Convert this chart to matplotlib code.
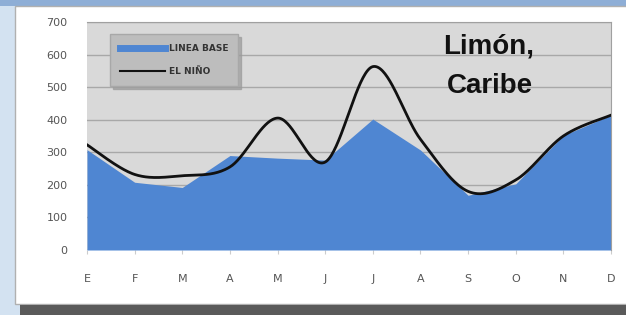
import numpy as np
import matplotlib
matplotlib.use("Agg")
import matplotlib.pyplot as plt
from matplotlib.patches import Rectangle
from matplotlib.lines import Line2D

months = ["E", "F", "M", "A", "M", "J", "J", "A", "S", "O", "N", "D"]
linea_base = [308, 208, 192, 290, 282, 276, 402, 307, 168, 203, 352, 414]
el_nino = [323, 232, 228, 255, 405, 270, 563, 340, 180, 215, 350, 414]
yticks = [0, 100, 200, 300, 400, 500, 600, 700]

W, H = 626, 315
fig = plt.figure(figsize=(W / 100, H / 100), dpi=100)
fig.patch.set_facecolor("#d3e2f1")

def fx(px):
    return px / W

def fy(py):
    return 1 - py / H

# background decoration
bg = fig.add_axes([0, 0, 1, 1], zorder=-5)
bg.set_xlim(0, W)
bg.set_ylim(H, 0)
bg.axis("off")
bg.add_patch(Rectangle((0, 0), W, 6, facecolor="#8eaed6", edgecolor="none"))
bg.add_patch(Rectangle((15, 6), W, 298, facecolor="white", edgecolor="#b0b0b0", lw=1.0))
bg.add_patch(Rectangle((20, 305), W, 12, facecolor="#5a5a5a", edgecolor="none"))

ax = fig.add_axes([fx(87), fy(250), fx(611 - 87), (250 - 22) / H], zorder=2)
ax.set_facecolor("#d9d9d9")
x = np.arange(len(months))

ax.fill_between(x, linea_base, 0, color="#4f86d2", lw=0, zorder=2)

# Excel-style smoothed line (Catmull-Rom Bezier)
def smooth(xs, ys, n=40):
    P = np.column_stack([xs, ys]).astype(float)
    ext = np.vstack([P[0], P, P[-1]])
    out = []
    for i in range(len(P) - 1):
        p0, p1, p2, p3 = ext[i], ext[i + 1], ext[i + 2], ext[i + 3]
        c1 = p1 + (p2 - p0) / 6
        c2 = p2 - (p3 - p1) / 6
        t = np.linspace(0, 1, n)[:, None]
        seg = ((1 - t) ** 3) * p1 + 3 * ((1 - t) ** 2) * t * c1 + 3 * (1 - t) * t ** 2 * c2 + t ** 3 * p2
        out.append(seg if i == 0 else seg[1:])
    out = np.vstack(out)
    return out[:, 0], out[:, 1]

sx, sy = smooth(x, el_nino)
ax.plot(sx, sy, color="#111111", lw=2.0, zorder=3)

ax.set_xlim(0, len(months) - 1)
ax.set_ylim(0, 700)
ax.set_yticks(yticks)
ax.set_xticks(x)
ax.set_xticklabels(months)
ax.grid(axis="y", color="#a8a8a8", lw=1.0, zorder=1)
ax.set_axisbelow(True)
ax.tick_params(axis="y", length=0, pad=14, labelsize=8, labelcolor="#555555")
ax.tick_params(axis="x", length=3, color="#cccccc", pad=14, labelsize=8, labelcolor="#555555")
for s in ["top", "right"]:
    ax.spines[s].set_color("#a0a0a0")
ax.spines["left"].set_visible(False)
ax.spines["bottom"].set_visible(False)

handles = [Line2D([], [], color="#4f86d2", lw=5),
           Line2D([], [], color="#111111", lw=1.5)]
leg = ax.legend(handles, ["LINEA BASE", "EL NIÑO"], loc="upper left",
                bbox_to_anchor=(0.035, 0.965), frameon=True,
                prop={"size": 6.5, "weight": "bold"}, handlelength=5.0,
                handletextpad=0.4, borderpad=1.1, labelspacing=1.5,
                fancybox=False, shadow={"color": "#9a9a9a", "alpha": 0.7})
leg.get_frame().set_facecolor("#bdbdbd")
leg.get_frame().set_edgecolor("#a8a8a8")
for t in leg.get_texts():
    t.set_color("#333333")

fig.text(fx(489), fy(46), "Limón,", ha="center", va="center", fontsize=20,
         fontweight="bold", family="Liberation Sans", color="#111111", zorder=10)
fig.text(fx(490), fy(86), "Caribe", ha="center", va="center", fontsize=20,
         fontweight="bold", family="Liberation Sans", color="#111111", zorder=10)

fig.savefig("out.png", dpi=100, facecolor=fig.get_facecolor())
